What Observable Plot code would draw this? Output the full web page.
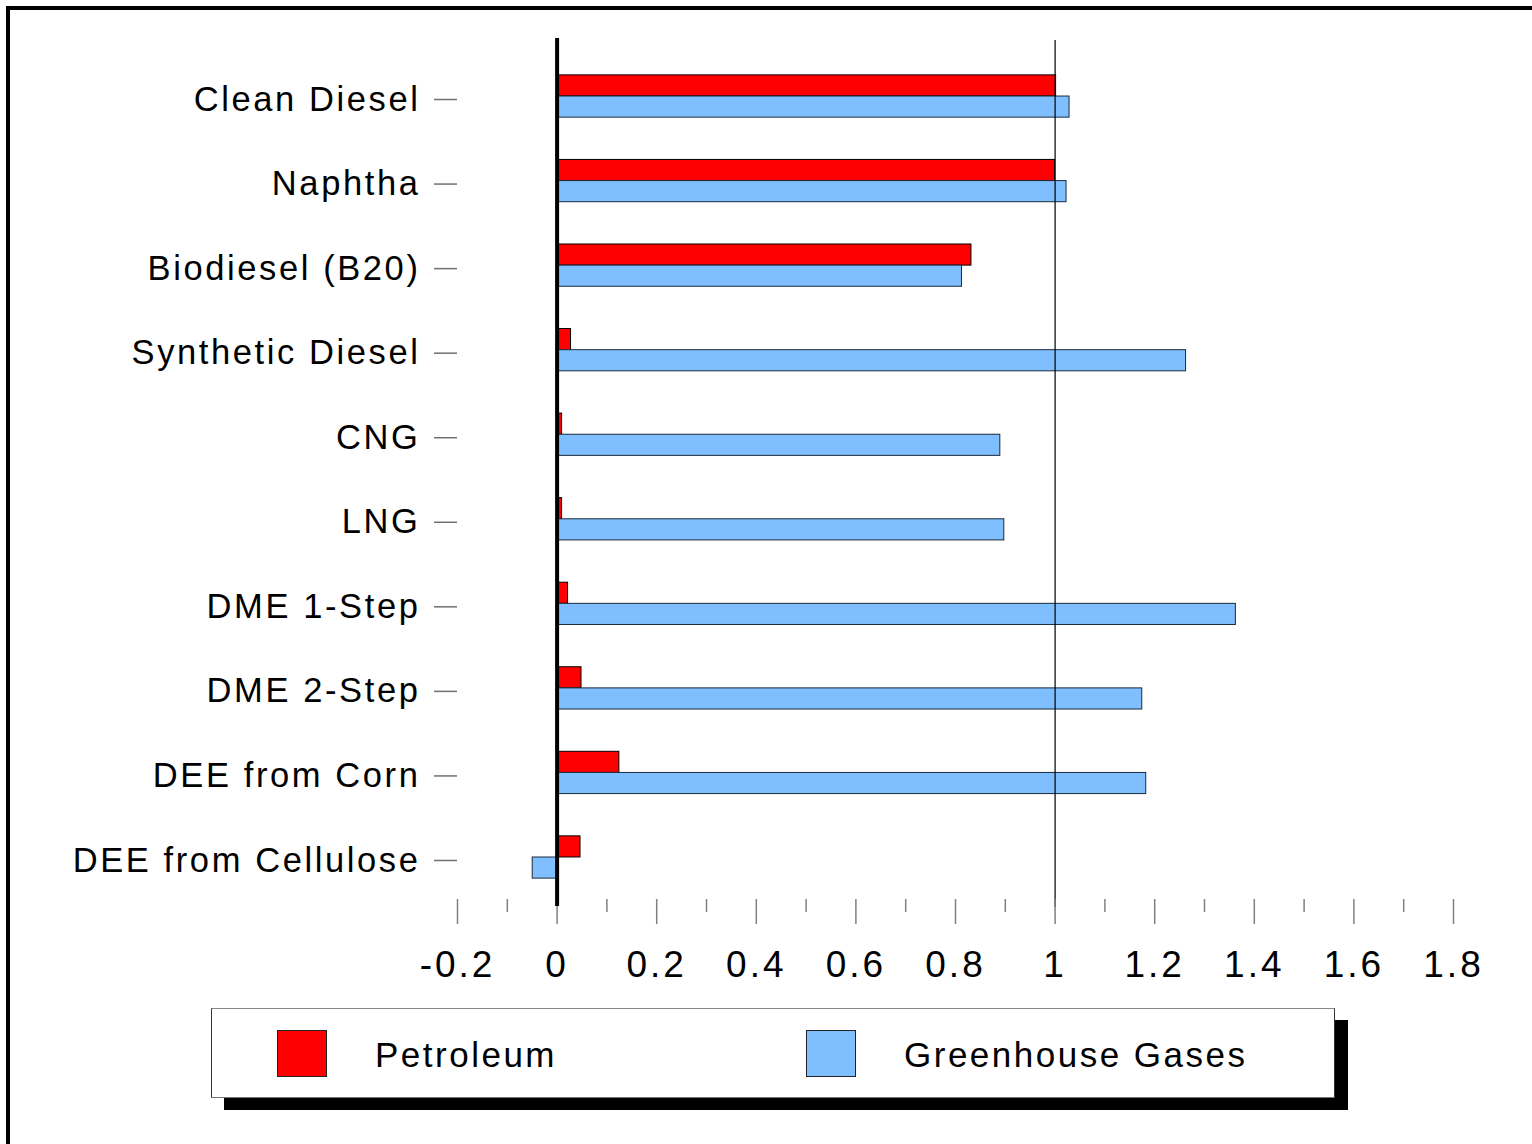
<!DOCTYPE html>
<html>
<head>
<meta charset="utf-8">
<script src="https://cdn.jsdelivr.net/npm/d3@7"></script>
<script src="https://cdn.jsdelivr.net/npm/@observablehq/plot@0.6"></script>
<style>
  html, body { margin: 0; padding: 0; background: #fff; overflow: hidden; }
  body { width: 1532px; height: 1144px; position: relative; font-family: "Liberation Sans", Arial, sans-serif; }
  #frame { position: absolute; left: 6px; top: 6px; width: 1600px; height: 1200px;
           border-top: 4px solid #000; border-left: 4px solid #000; box-sizing: border-box; }
  #chart { position: absolute; left: 0; top: 0; }
  #chart svg { background: transparent; }
  #chart g[aria-label="y-axis tick label"] text { letter-spacing: 2.6px; }
  #chart g[aria-label="x-axis tick label"] text { letter-spacing: 3px; }
  #legend { position: absolute; left: 211px; top: 1008px; width: 1124px; height: 90px; box-sizing: border-box;
            background: #fff; border: 1px solid #333; border-top-color: #888; border-bottom-color: #777;
            box-shadow: 13px 12px 0 #000; }
  .swatch { position: absolute; top: 21px; width: 50px; height: 47px; box-sizing: border-box; border: 1px solid #222; }
  .label { position: absolute; top: 26px; font-size: 35px; letter-spacing: 2.5px; color: #000; white-space: nowrap; line-height: 40px; }
</style>
</head>
<body>
<div id="frame"></div>
<div id="chart"></div>
<div id="legend"></div>
<script>
// Fuel pathways, top to bottom
const categories = [
  "Clean Diesel", "Naphtha", "Biodiesel (B20)", "Synthetic Diesel", "CNG",
  "LNG", "DME 1-Step", "DME 2-Step", "DEE from Corn", "DEE from Cellulose"
];
// Relative petroleum use and greenhouse-gas emissions (conventional diesel = 1)
const petroleum  = [1.002, 1.0, 0.832, 0.028, 0.010, 0.010, 0.022, 0.049, 0.125, 0.047];
const greenhouse = [1.029, 1.023, 0.813, 1.263, 0.890, 0.898, 1.363, 1.175, 1.183, -0.049];

const seriesNames = ["Petroleum", "Greenhouse Gases"];
const seriesColors = ["#ff0000", "#80bfff"];

const majorTicks = [-0.2, 0, 0.2, 0.4, 0.6, 0.8, 1, 1.2, 1.4, 1.6, 1.8];
const minorTicks = [-0.1, 0.1, 0.3, 0.5, 0.7, 0.9, 1.1, 1.3, 1.5, 1.7];

const petroRows = categories.map((c, i) => ({category: c, value: petroleum[i]}));
const ghgRows = categories.map((c, i) => ({category: c, value: greenhouse[i]}));

const half = 21.15; // half of the band width: red on the upper half, blue on the lower

const chart = Plot.plot({
  width: 1532,
  height: 1000,
  marginLeft: 457,
  marginRight: 79,
  marginTop: 38,
  marginBottom: 101,
  style: {background: "transparent", fontFamily: "'Liberation Sans', Arial, sans-serif", color: "#000"},
  x: {domain: [-0.2, 1.8], label: null},
  y: {domain: categories, range: [32.6, 920.4], padding: 0.5, round: false, label: null},
  marks: [
    Plot.barX(petroRows, {x: "value", y: "category", fill: seriesColors[0], stroke: "#000", strokeWidth: 1, insetBottom: half}),
    Plot.barX(ghgRows, {x: "value", y: "category", fill: seriesColors[1], stroke: "#1a2a3a", strokeWidth: 1, insetTop: half}),
    Plot.ruleX([1], {stroke: "#000", strokeWidth: 1.2, insetTop: 2, insetBottom: -8}),
    Plot.axisX({ticks: minorTicks, tickSize: 13, tickFormat: () => "", stroke: "#808080", strokeWidth: 1.5}),
    Plot.axisX({ticks: majorTicks, tickSize: 25, tickPadding: 26, tickFormat: d => String(d),
                fontSize: 37, stroke: "#808080", strokeWidth: 1.5, fill: "#000"}),
    Plot.ruleX([0], {stroke: "#000", strokeWidth: 4, insetBottom: -7}),
    Plot.axisY({tickSize: 23, tickPadding: 14, fontSize: 34.5, stroke: "#707070", strokeWidth: 1.5, fill: "#000", dy: 3})
  ]
});
document.getElementById("chart").append(chart);

// Legend below the chart
const legend = d3.select("#legend");
const legendX = [{sw: 65, tx: 163}, {sw: 594, tx: 692}];
seriesNames.forEach((name, i) => {
  legend.append("div").attr("class", "swatch")
    .style("left", legendX[i].sw + "px").style("background", seriesColors[i]);
  legend.append("div").attr("class", "label")
    .style("left", legendX[i].tx + "px").text(name);
});
</script>
</body>
</html>
